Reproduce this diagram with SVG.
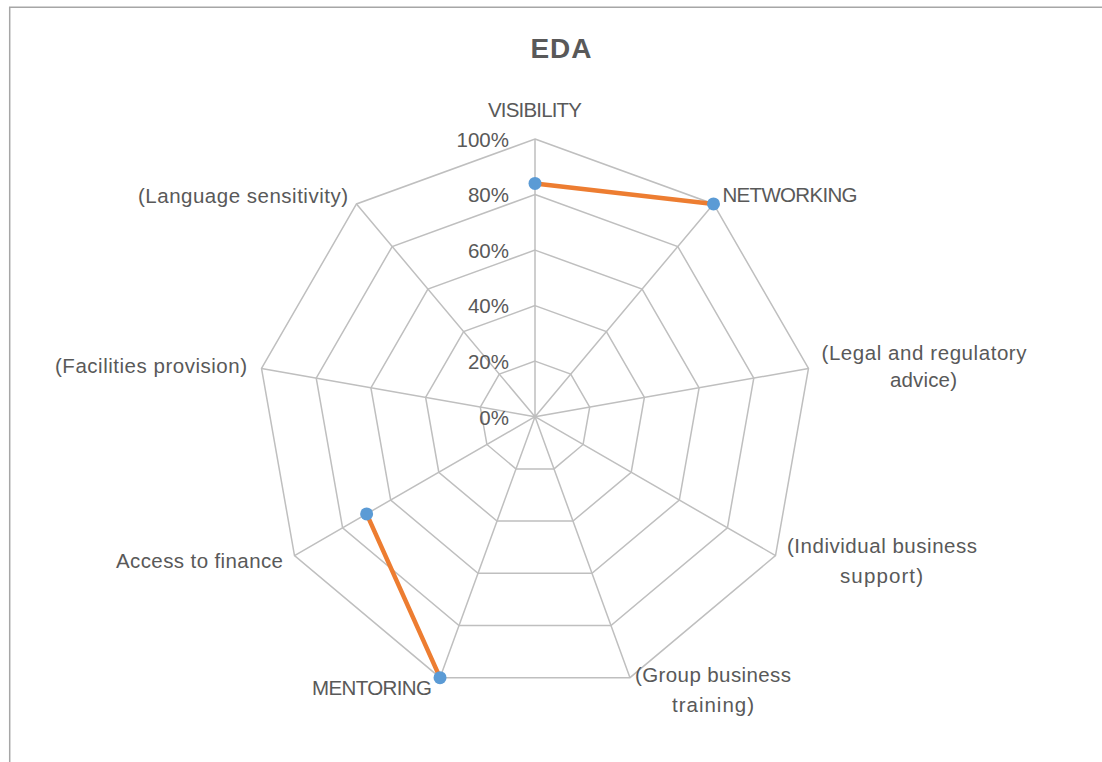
<svg xmlns="http://www.w3.org/2000/svg" width="1102" height="762" viewBox="0 0 1102 762">
<style>
.t{font-family:"Liberation Sans",Arial,sans-serif;font-size:20.5px;fill:#595959}
.m{text-anchor:middle}
.e{text-anchor:end}
.grid{fill:none;stroke:#bfbfbf;stroke-width:1.5}
.ser{fill:none;stroke:#ed7d31;stroke-width:4.5;stroke-linecap:round}
.dot{fill:#5b9bd5}
</style>
<rect width="1102" height="762" fill="#ffffff"/>
<path d="M9.7 762 V7.3 H1102" fill="none" stroke="#a6a6a6" stroke-width="1.5"/>
<g id="title"><text x="561" y="58" class="t m" style="font-size:28px;font-weight:bold" textLength="61">EDA</text></g>
<g id="grid" transform="translate(535,416.7)">
<polygon class="grid" points="0,-277.7 178.5,-212.73 273.48,-48.22 240.5,138.85 94.98,260.96 -94.98,260.96 -240.5,138.85 -273.48,-48.22 -178.5,-212.73"/>
<polygon class="grid" points="0,-222.16 142.8,-170.18 218.78,-38.58 192.4,111.08 75.98,208.77 -75.98,208.77 -192.4,111.08 -218.78,-38.58 -142.8,-170.18"/>
<polygon class="grid" points="0,-166.62 107.1,-127.64 164.09,-28.93 144.3,83.31 56.99,156.58 -56.99,156.58 -144.3,83.31 -164.09,-28.93 -107.1,-127.64"/>
<polygon class="grid" points="0,-111.08 71.4,-85.09 109.39,-19.29 96.2,55.54 37.99,104.38 -37.99,104.38 -96.2,55.54 -109.39,-19.29 -71.4,-85.09"/>
<polygon class="grid" points="0,-55.54 35.7,-42.55 54.7,-9.64 48.1,27.77 19,52.19 -19,52.19 -48.1,27.77 -54.7,-9.64 -35.7,-42.55"/>
<path class="grid" d="M0 0L0,-277.7M0 0L178.5,-212.73M0 0L273.48,-48.22M0 0L240.5,138.85M0 0L94.98,260.96M0 0L-94.98,260.96M0 0L-240.5,138.85M0 0L-273.48,-48.22M0 0L-178.5,-212.73"/>
</g>
<g id="scale">
<text x="509" y="147" class="t e">100%</text>
<text x="509" y="202" class="t e">80%</text>
<text x="509" y="258" class="t e">60%</text>
<text x="509" y="313" class="t e">40%</text>
<text x="509" y="369" class="t e">20%</text>
<text x="509" y="425" class="t e">0%</text>
</g>
<g id="connectors" transform="translate(535,416.7)">
<polyline class="ser" points="0,-233.3 178.5,-212.73"/>
<polyline class="ser" points="-168.35,97.2 -94.98,260.96"/>
</g>
<g id="points" transform="translate(535,416.7)">
<circle class="dot" cx="0" cy="-233.3" r="6.5"/>
<circle class="dot" cx="178.5" cy="-212.73" r="6.5"/>
<circle class="dot" cx="-168.35" cy="97.2" r="6.5"/>
<circle class="dot" cx="-94.98" cy="260.96" r="6.5"/>
</g>
<g id="visibility"><text x="535" y="117" class="t m" textLength="94">VISIBILITY</text></g>
<g id="networking"><text x="722.5" y="202" class="t" textLength="135">NETWORKING</text></g>
<g id="legal"><text x="924" y="360" class="t m" textLength="205">(Legal and regulatory</text><text x="923.5" y="387" class="t m" textLength="67">advice)</text></g>
<g id="individual"><text x="882" y="553" class="t m" textLength="190">(Individual business</text><text x="881.5" y="583" class="t m" textLength="83">support)</text></g>
<g id="group"><text x="713" y="682" class="t m" textLength="156">(Group business</text><text x="713" y="712" class="t m" textLength="82">training)</text></g>
<g id="mentoring"><text x="432" y="695" class="t e" textLength="120">MENTORING</text></g>
<g id="finance"><text x="283" y="568" class="t e" textLength="167">Access to finance</text></g>
<g id="facilities"><text x="247" y="373" class="t e" textLength="192">(Facilities provision)</text></g>
<g id="language"><text x="348" y="203" class="t e" textLength="210">(Language sensitivity)</text></g>
</svg>
